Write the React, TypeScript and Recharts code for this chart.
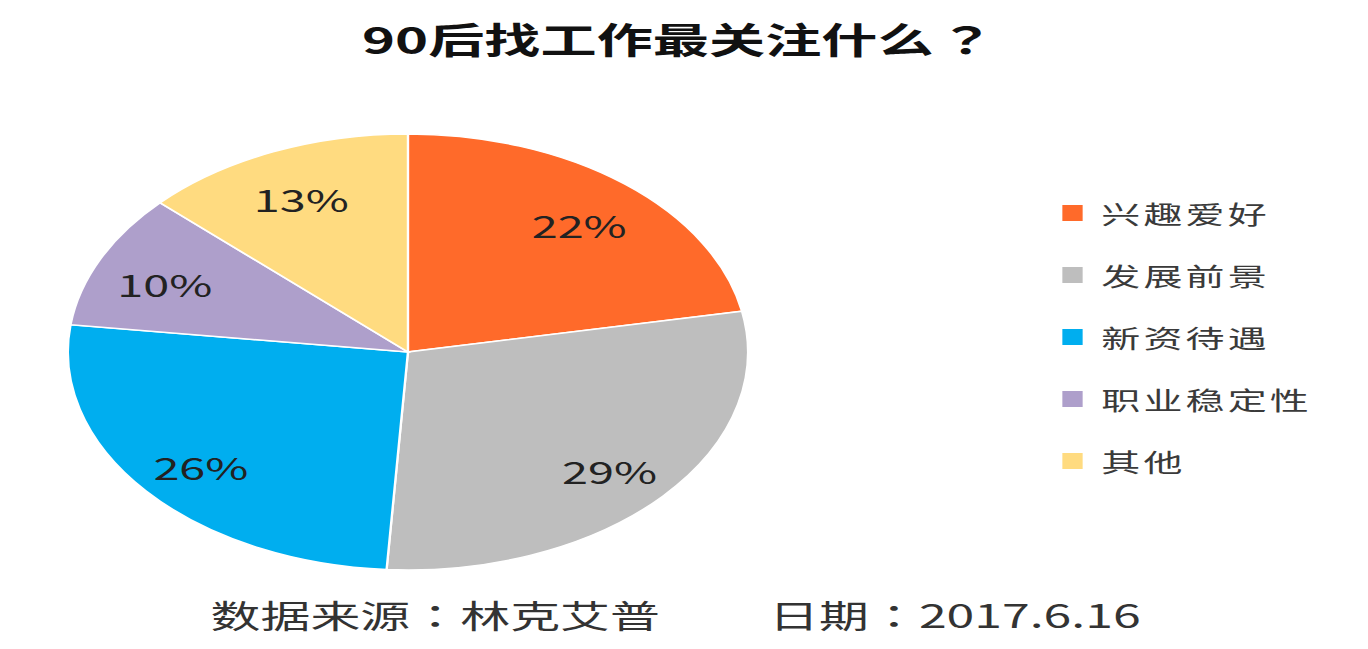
import React from "react";
import { PieChart, Pie, Cell, Legend } from "recharts";

// 90后找工作最关注什么？ (单位: %)
const CATEGORIES = ["兴趣爱好", "发展前景", "新资待遇", "职业稳定性", "其他"];
const SHARES = [22, 29, 26, 10, 13];
const COLORS = ["#FF6A2A", "#BEBEBE", "#00AEEF", "#AE9FCB", "#FFDB80"];

const TITLE = "90后找工作最关注什么";
const SOURCE_LABEL = "数据来源";
const SOURCE = "林克艾普";
const DATE_LABEL = "日期";
const DATE = "2017.6.16";

const data = CATEGORIES.map((name, i) => ({ name, value: SHARES[i] }));

// 原图整体被横向拉伸，这里用 scaleX 还原
const STRETCH = 1.56;
const W = 877;
const H = 649;
const FONT = '"Noto Sans CJK SC", "Noto Sans", sans-serif';
// 全角标点居中
const PUNCT_FONT = '"Noto Sans CJK TC", "Noto Sans CJK SC", sans-serif';
const RAD = Math.PI / 180;

const renderLabel = (props: any) => {
  const { cx, cy, midAngle, outerRadius, value } = props;
  const r = outerRadius * 0.79;
  const x = cx + r * Math.cos(-midAngle * RAD);
  const y = cy + r * Math.sin(-midAngle * RAD) + 5;
  return (
    <text
      x={x}
      y={y}
      textAnchor="middle"
      dominantBaseline="central"
      fill="#222"
      fontSize={30}
      fontFamily={FONT}
    >
      {`${value}%`}
    </text>
  );
};

// 图例按原始顺序
const renderLegend = () => (
  <ul style={{ listStyle: "none", margin: 0, padding: 0 }}>
    {CATEGORIES.map((name, i) => (
      <li
        key={name}
        style={{ display: "flex", alignItems: "center", height: 62 }}
      >
        <span
          style={{
            display: "inline-block",
            width: 13,
            height: 16,
            background: COLORS[i],
            marginRight: 12,
          }}
        />
        <span
          style={{
            fontSize: 25,
            letterSpacing: 2,
            color: "#3a3a3a",
            fontFamily: FONT,
            lineHeight: 1,
          }}
        >
          {name}
        </span>
      </li>
    ))}
  </ul>
);

const Colon = () => <span style={{ fontFamily: PUNCT_FONT }}>：</span>;

export default function App() {
  return (
    <div
      style={{
        position: "absolute",
        left: 0,
        top: 0,
        width: W,
        height: H,
        background: "#fff",
        transform: `scaleX(${STRETCH})`,
        transformOrigin: "0 0",
        fontFamily: FONT,
      }}
    >
      <div
        style={{
          position: "absolute",
          top: 20,
          left: 232,
          fontSize: 36,
          fontWeight: 700,
          lineHeight: 1,
          color: "#111",
          whiteSpace: "nowrap",
        }}
      >
        {TITLE}
        <span style={{ fontFamily: PUNCT_FONT, marginLeft: 3 }}>？</span>
      </div>

      <div style={{ position: "absolute", left: 0, top: 0 }}>
        <PieChart
          width={W}
          height={H}
          margin={{ top: 0, right: 0, bottom: 0, left: 0 }}
        >
          <Pie
            data={data}
            dataKey="value"
            nameKey="name"
            cx={261.5}
            cy={352}
            outerRadius={218}
            startAngle={90}
            endAngle={-270}
            stroke="#fff"
            strokeWidth={1.5}
            label={renderLabel}
            labelLine={false}
            isAnimationActive={false}
          >
            {data.map((d, i) => (
              <Cell key={d.name} fill={COLORS[i]} />
            ))}
          </Pie>
          <Legend
            layout="vertical"
            content={renderLegend}
            wrapperStyle={{ left: 681, top: 182, width: 190 }}
          />
        </PieChart>
      </div>

      <div
        style={{
          position: "absolute",
          top: 598,
          left: 135,
          fontSize: 32,
          lineHeight: 1,
          color: "#333",
          whiteSpace: "nowrap",
        }}
      >
        {SOURCE_LABEL}
        <Colon />
        {SOURCE}
      </div>
      <div
        style={{
          position: "absolute",
          top: 598,
          left: 493,
          fontSize: 32,
          lineHeight: 1,
          color: "#333",
          whiteSpace: "nowrap",
        }}
      >
        {DATE_LABEL}
        <Colon />
        {DATE}
      </div>
    </div>
  );
}
